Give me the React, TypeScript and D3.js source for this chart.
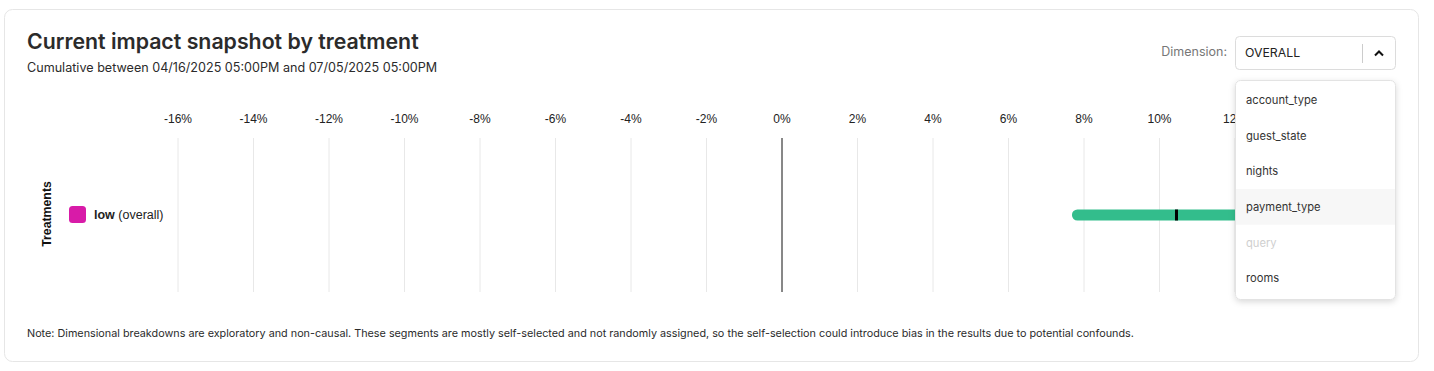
import React from "react";
import * as d3 from "d3";

const tickValues = [-16, -14, -12, -10, -8, -6, -4, -2, 0, 2, 4, 6, 8, 10, 12, 14];
const treatments = ["low"];
const treatmentColors = ["#d81ba8"];
const ciLower = [7.68];
const ciUpper = [13.2];
const pointEstimate = [10.45];
const dimensionOptions = ["account_type", "guest_state", "nights", "payment_type", "query", "rooms"];
const disabledOptions = ["query"];
const hoveredOption = "payment_type";

const W = 1434;
const H = 371;
const FONT = "Inter, 'Noto Sans', sans-serif";
const ARIAL = "'Liberation Sans', Arial, sans-serif";

export default function App() {
  const x = d3.scaleLinear().domain([-16, 16]).range([178, 1386]);
  const y = d3.scaleBand().domain(treatments).range([138, 292]);
  const barH = 11;
  const menuY = d3.scaleBand().domain(dimensionOptions).range([82, 296]);

  return (
    <svg width={W} height={H} style={{ position: "absolute", left: 0, top: 0, fontFamily: FONT }}>
      <defs>
        <filter id="shadow" x="-20%" y="-10%" width="140%" height="130%">
          <feDropShadow dx="0" dy="2" stdDeviation="3" floodColor="#000" floodOpacity="0.15" />
        </filter>
      </defs>
      <rect x={0} y={0} width={W} height={H} fill="#fff" />
      <rect x={4.5} y={9.5} width={1414} height={352} rx={8} fill="#fff" stroke="#e6e6e6" />
      <text x={27} y={49} fontSize={21.3} fontWeight={600} fill="#2b2b2b">Current impact snapshot by treatment</text>
      <text x={27} y={72} fontSize={12.6} fill="#2b2b2b">Cumulative between 04/16/2025 05:00PM and 07/05/2025 05:00PM</text>

      {tickValues.map((t) => (
        <g key={t}>
          <line x1={x(t)} x2={x(t)} y1={138} y2={292} stroke={t === 0 ? "#111" : "#e8e8e8"} strokeWidth={1} />
          <text x={x(t)} y={123} fontSize={12} fontFamily={ARIAL} textAnchor="middle" fill="#222">{t}%</text>
        </g>
      ))}

      <text transform={`translate(51,${214}) rotate(-90)`} fontSize={12.3} fontFamily={ARIAL} fontWeight={700} textAnchor="middle" fill="#111">Treatments</text>

      {treatments.map((tr, i) => {
        const cy = (y(tr) as number) + y.bandwidth() / 2;
        return (
          <g key={tr}>
            <rect x={69} y={cy - 9} width={17} height={17} rx={3.5} fill={treatmentColors[i]} />
            <text x={94} y={cy + 4} fontSize={12.5} fontFamily={ARIAL} fill="#222">
              <tspan fontWeight={700}>{tr}</tspan>
              <tspan> (overall)</tspan>
            </text>
            <rect x={x(ciLower[i])} y={cy - barH / 2} width={x(ciUpper[i]) - x(ciLower[i])} height={barH} rx={barH / 2} fill="#33bd8c" />
            <rect x={x(pointEstimate[i]) - 1.5} y={cy - barH / 2} width={3} height={barH} fill="#000" />
          </g>
        );
      })}

      <text x={27} y={337} fontSize={10.8} fill="#2b2b2b">Note: Dimensional breakdowns are exploratory and non-causal. These segments are mostly self-selected and not randomly assigned, so the self-selection could introduce bias in the results due to potential confounds.</text>

      <text x={1227} y={56} fontSize={12.5} textAnchor="end" fill="#777">Dimension:</text>
      <rect x={1235.5} y={36.5} width={160} height={33} rx={4} fill="#fff" stroke="#dcdcdc" />
      <text x={1245} y={57} fontSize={12.3} fill="#222">OVERALL</text>
      <line x1={1362.5} x2={1362.5} y1={44} y2={63} stroke="#ccc" />
      <path d="M1375 55.5 L1379 51.5 L1383 55.5" fill="none" stroke="#111" strokeWidth={2} />

      <rect x={1235.5} y={80.5} width={160} height={219} rx={5} fill="#fff" stroke="#e3e3e3" filter="url(#shadow)" />
      {dimensionOptions.map((o) => {
        const top = menuY(o) as number;
        return (
          <g key={o}>
            {o === hoveredOption && <rect x={1236} y={top} width={159} height={menuY.bandwidth()} fill="#f7f7f7" />}
            <text x={1246} y={top + menuY.bandwidth() / 2 + 4} fontSize={11.2} fill={disabledOptions.includes(o) ? "#cfcfcf" : "#333"}>{o}</text>
          </g>
        );
      })}
    </svg>
  );
}
